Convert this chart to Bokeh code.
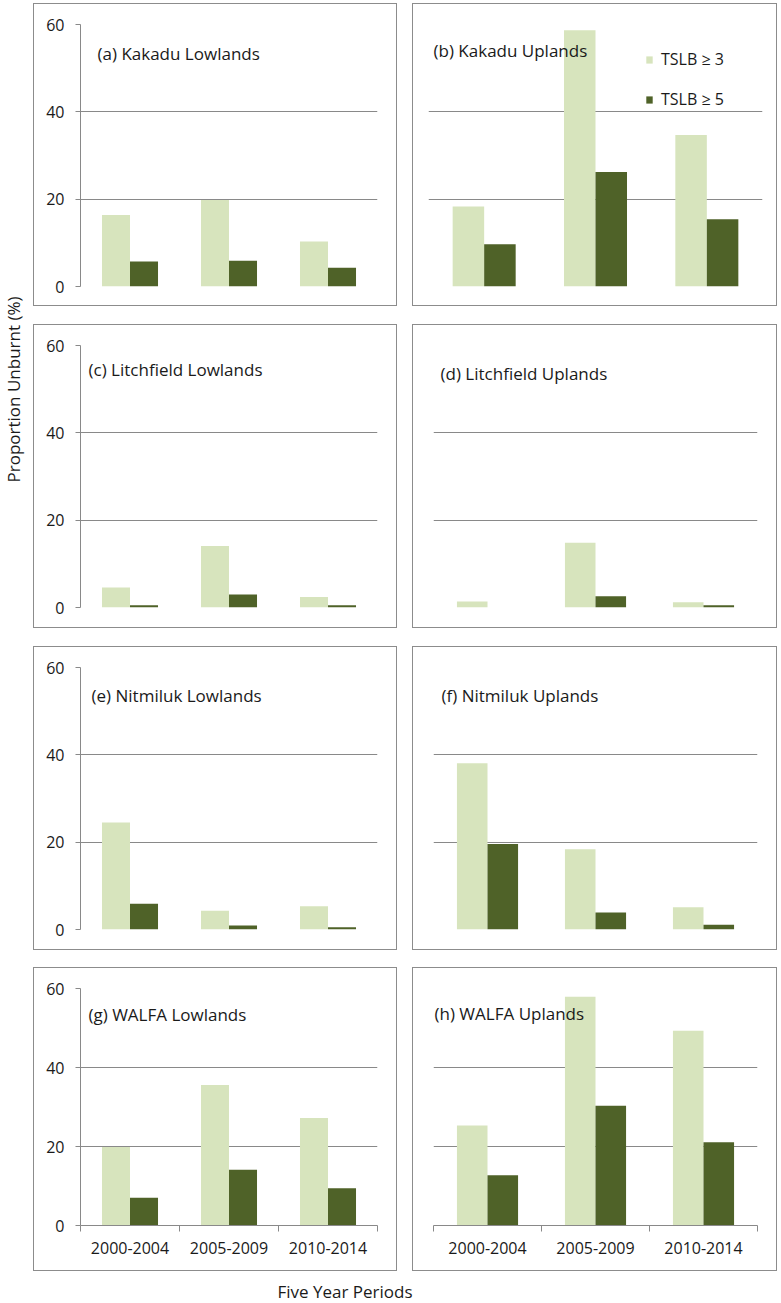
import math
from bokeh.plotting import figure
from bokeh.layouts import row, column
from bokeh.models import Range1d, FixedTicker, Label, ColumnDataSource, Spacer
from bokeh.transform import dodge
from bokeh.embed import file_html
from bokeh.resources import INLINE

# ---------------- data ----------------
periods = ["2000-2004", "2005-2009", "2010-2014"]
series_names = ["TSLB \u2265 3", "TSLB \u2265 5"]
panel_titles = [
    "(a) Kakadu Lowlands", "(b) Kakadu Uplands",
    "(c) Litchfield Lowlands", "(d) Litchfield Uplands",
    "(e) Nitmiluk  Lowlands", "(f) Nitmiluk Uplands",
    "(g) WALFA Lowlands", "(h) WALFA Uplands",
]
tslb3_a = [16.4, 19.8, 10.3]
tslb5_a = [5.7, 5.9, 4.3]
tslb3_b = [18.3, 58.7, 34.7]
tslb5_b = [9.7, 26.2, 15.4]
tslb3_c = [4.6, 14.1, 2.4]
tslb5_c = [0.5, 3.0, 0.5]
tslb3_d = [1.4, 14.8, 1.2]
tslb5_d = [0.0, 2.6, 0.5]
tslb3_e = [24.5, 4.3, 5.3]
tslb5_e = [5.9, 0.9, 0.5]
tslb3_f = [38.1, 18.4, 5.1]
tslb5_f = [19.6, 3.9, 1.1]
tslb3_g = [19.9, 35.6, 27.2]
tslb5_g = [7.0, 14.1, 9.4]
tslb3_h = [25.3, 57.9, 49.3]
tslb5_h = [12.7, 30.3, 21.1]
y_ticks = [0, 20, 40, 60]
y_label = "Proportion Unburnt (%)"
x_label = "Five Year Periods"

panel_data = [
    (tslb3_a, tslb5_a), (tslb3_b, tslb5_b),
    (tslb3_c, tslb5_c), (tslb3_d, tslb5_d),
    (tslb3_e, tslb5_e), (tslb3_f, tslb5_f),
    (tslb3_g, tslb5_g), (tslb3_h, tslb5_h),
]

# ---------------- styles / layout ----------------
FONT = "Open Sans"
LIGHT = "#d7e4bd"
DARK = "#4f6228"
GRID = "#898989"
BORDER = "#8c8c8c"
TEXT = "#1a1a1a"
BAR_W = 0.283

# per panel: fig_w, fig_h, min_border l, r, t, b, title dx, title dy (px from frame top-left)
geom = [
    (364, 303, 46, 21, 20, 21, 17, 29), (365, 303, 15, 16, 20, 21, 5, 26),
    (364, 304, 46, 21, 20, 22, 8, 24), (365, 304, 20, 21, 20, 22, 7, 28),
    (364, 304, 46, 21, 20, 22, 11, 28), (365, 304, 20, 21, 20, 22, 8, 28),
    (364, 304, 46, 21, 20, 47, 8, 26), (365, 304, 20, 21, 20, 47, 1, 25),
]


def make_panel(k):
    fw, fh, ml, mr, mt, mb, tdx, tdy = geom[k]
    left = (k % 2 == 0)
    bottom = (k >= 6)
    p = figure(width=fw, height=fh, output_backend="svg", toolbar_location=None,
               x_range=Range1d(0, len(periods)), y_range=Range1d(0, 60),
               x_axis_location="below" if bottom else None,
               y_axis_location="left" if left else None,
               min_border_left=ml, min_border_right=mr,
               min_border_top=mt, min_border_bottom=mb)
    p.outline_line_color = None
    p.background_fill_color = "white"
    p.border_fill_color = "white"
    p.styles = {"border": f"1px solid {BORDER}"}
    p.xgrid.visible = False
    p.ygrid.ticker = FixedTicker(ticks=y_ticks)
    p.ygrid.grid_line_color = GRID
    p.ygrid.grid_line_width = 1

    if left:
        ax = p.yaxis[0]
        ax.ticker = FixedTicker(ticks=y_ticks, minor_ticks=[])
        ax.axis_line_color = GRID
        ax.major_tick_line_color = GRID
        ax.major_tick_out = 5
        ax.major_tick_in = 0
        ax.minor_tick_out = 0
        ax.minor_tick_in = 0
        ax.major_label_standoff = 11
        ax.major_label_text_font = FONT
        ax.major_label_text_font_size = "16px"
        ax.major_label_text_color = TEXT
    if bottom:
        ax = p.xaxis[0]
        centers = [i + 0.5 for i in range(len(periods))]
        bounds = [float(i) for i in range(len(periods) + 1)]
        ax.ticker = FixedTicker(ticks=centers, minor_ticks=bounds)
        ax.major_label_overrides = {c: lab for c, lab in zip(centers, periods)}
        ax.axis_line_color = GRID
        ax.major_tick_out = 0
        ax.major_tick_in = 0
        ax.minor_tick_line_color = GRID
        ax.minor_tick_out = 6
        ax.minor_tick_in = 0
        ax.major_label_standoff = 10
        ax.major_label_text_font = FONT
        ax.major_label_text_font_size = "16px"
        ax.major_label_text_color = TEXT

    s3, s5 = panel_data[k]
    src = ColumnDataSource(dict(x=[i + 0.5 for i in range(len(periods))],
                                period=periods, s3=s3, s5=s5))
    kw3 = dict(legend_label=series_names[0]) if k == 1 else {}
    kw5 = dict(legend_label=series_names[1]) if k == 1 else {}
    p.vbar(x=dodge("x", -BAR_W / 2, range=p.x_range), top="s3", bottom=0, width=BAR_W,
           source=src, fill_color=LIGHT, line_color=None, **kw3)
    p.vbar(x=dodge("x", BAR_W / 2, range=p.x_range), top="s5", bottom=0, width=BAR_W,
           source=src, fill_color=DARK, line_color=None, **kw5)

    frame_w = fw - ml - mr
    frame_h = fh - mt - mb
    p.add_layout(Label(x=tdx / frame_w * len(periods), y=60 - tdy / frame_h * 60,
                       text=panel_titles[k], text_font=FONT, text_font_size="17px",
                       text_color=TEXT, text_align="left", text_baseline="middle"))

    if k == 1:
        lg = p.legend[0]
        lg.location = (217, 176)
        lg.background_fill_alpha = 0
        lg.border_line_color = None
        lg.padding = 0
        lg.margin = 0
        lg.spacing = 18
        lg.glyph_width = 8
        lg.glyph_height = 9
        lg.label_height = 22
        lg.label_standoff = 8
        lg.label_text_font = FONT
        lg.label_text_font_size = "16px"
        lg.label_text_color = TEXT
    return p


panels = [make_panel(k) for k in range(8)]
rows = [row(panels[2 * r], panels[2 * r + 1], spacing=15) for r in range(4)]
grid = column(Spacer(width=10, height=3), rows[0], Spacer(width=10, height=18),
              rows[1], Spacer(width=10, height=18), rows[2],
              Spacer(width=10, height=17), rows[3], spacing=0)

GRID_H = 3 + 303 + 18 + 304 + 18 + 304 + 17 + 304
STRIP_W = 33
strip = figure(width=STRIP_W, height=GRID_H, output_backend="svg", toolbar_location=None,
               x_range=Range1d(0, STRIP_W), y_range=Range1d(0, GRID_H),
               x_axis_location=None, y_axis_location=None,
               min_border=0, min_border_left=0, min_border_right=0,
               min_border_top=0, min_border_bottom=0)
strip.outline_line_color = None
strip.grid.visible = False
strip.add_layout(Label(x=12.5, y=GRID_H - 389, text=y_label, angle=math.pi / 2,
                       text_font=FONT, text_font_size="17px", text_color=TEXT,
                       text_align="center", text_baseline="middle"))

BOTTOM_W = STRIP_W + 364 + 15 + 365
BOTTOM_H = 32
bottom_fig = figure(width=BOTTOM_W, height=BOTTOM_H, output_backend="svg", toolbar_location=None,
                    x_range=Range1d(0, BOTTOM_W), y_range=Range1d(0, BOTTOM_H),
                    x_axis_location=None, y_axis_location=None,
                    min_border=0, min_border_left=0, min_border_right=0,
                    min_border_top=0, min_border_bottom=0)
bottom_fig.outline_line_color = None
bottom_fig.grid.visible = False
bottom_fig.add_layout(Label(x=344.5, y=BOTTOM_H - 20, text=x_label, text_font=FONT,
                            text_font_size="17px", text_color=TEXT,
                            text_align="center", text_baseline="middle"))

layout = column(row(strip, grid, spacing=0), bottom_fig, spacing=0)

open("out.html", "w").write(file_html(layout, INLINE))
